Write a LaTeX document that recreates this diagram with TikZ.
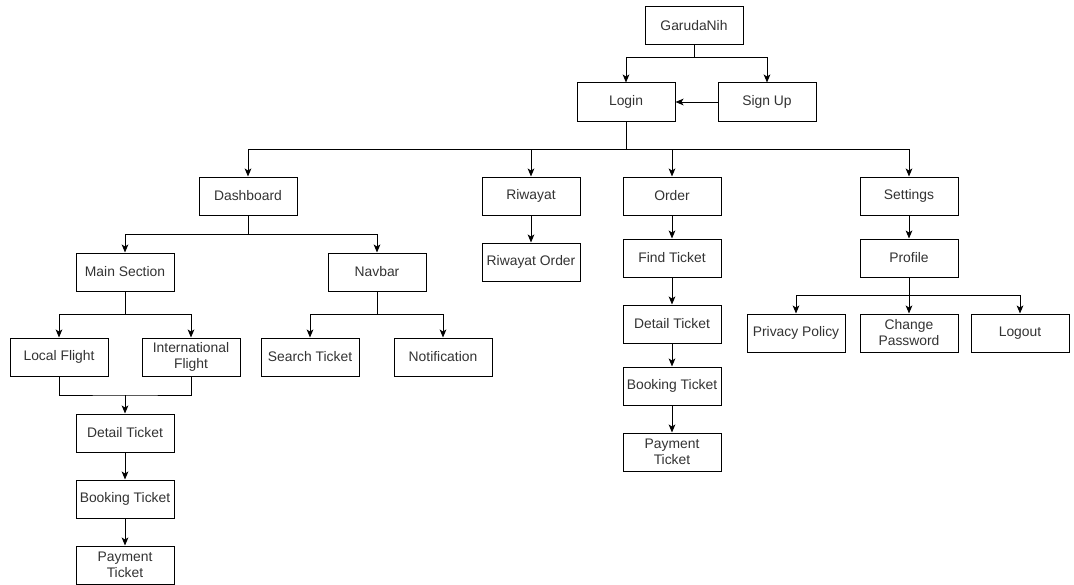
\documentclass[tikz,border=0pt]{standalone}
\usepackage{fontspec}
\setmainfont{Liberation Sans}
\usetikzlibrary{arrows.meta}
\definecolor{txt}{HTML}{333333}
\tikzset{
  box/.style={draw=black, line width=0.75pt, fill=white, minimum width=73.5pt,
    minimum height=28.5pt, inner sep=1pt, align=center, font=\fontsize{10.4}{12}\selectfont,
    text=txt},
  link/.style={draw=black, line width=0.75pt},
  arr/.style={link, -{Stealth[length=6pt, width=5pt, inset=1.5pt]}}
}
\begin{document}
\begin{tikzpicture}[x=0.75pt, y=-0.75pt]
\useasboundingbox (0,0) rectangle (1074,585);

% top level
\node[box] (garuda) at (694,26) {GarudaNih};
\node[box] (login) at (626,102) {Login};
\node[box] (signup) at (767,102) {Sign Up};

% main menus
\node[box] (dash) at (248,196) {Dashboard};
\node[box] (riwayat) at (531,196) {Riwayat};
\node[box] (order) at (672,196) {Order};
\node[box] (settings) at (909,196) {Settings};

% dashboard branch
\node[box] (main) at (125,272) {Main Section};
\node[box] (navbar) at (377,272) {Navbar};
\node[box] (local) at (59,357) {Local Flight};
\node[box] (intl) at (191,357) {International\\Flight};
\node[box] (search) at (310,357) {Search Ticket};
\node[box] (notif) at (443,357) {Notification};
\node[box] (detailA) at (125,433) {Detail Ticket};
\node[box] (bookA) at (125,499) {Booking Ticket};
\node[box] (payA) at (125,565) {Payment\\Ticket};

% riwayat branch
\node[box] (rorder) at (531,262) {Riwayat Order};

% order branch
\node[box] (find) at (672,258) {Find Ticket};
\node[box] (detailB) at (672,324) {Detail Ticket};
\node[box] (bookB) at (672,386) {Booking Ticket};
\node[box] (payB) at (672,452) {Payment\\Ticket};

% settings branch
\node[box] (profile) at (909,258) {Profile};
\node[box] (privacy) at (796,333) {Privacy Policy};
\node[box] (chpass) at (909,333) {Change\\Password};
\node[box] (logout) at (1020,333) {Logout};

% bus levels of the orthogonal connectors
\coordinate (busTop) at (694,58);
\coordinate (busLogin) at (626,149);
\coordinate (busDash) at (248,234);
\coordinate (busMain) at (125,314);
\coordinate (busNav) at (377,314);
\coordinate (merge) at (125,395);
\coordinate (busProf) at (909,295);

% GarudaNih to Login / Sign Up
\draw[arr] (garuda.south) -- (garuda.south |- busTop) -| (login.north);
\draw[arr] (garuda.south |- busTop) -| (signup.north);
\draw[arr] (signup.west) -- (login.east);

% Login to the main menus
\draw[link] (login.south) -- (login.south |- busLogin);
\draw[arr] (login.south |- busLogin) -| (dash.north);
\draw[arr] (login.south |- busLogin) -| (riwayat.north);
\draw[arr] (login.south |- busLogin) -| (order.north);
\draw[arr] (login.south |- busLogin) -| (settings.north);

% Dashboard
\draw[link] (dash.south) -- (dash.south |- busDash);
\draw[arr] (dash.south |- busDash) -| (main.north);
\draw[arr] (dash.south |- busDash) -| (navbar.north);

\draw[link] (main.south) -- (busMain);
\draw[arr] (busMain) -| (local.north);
\draw[arr] (busMain) -| (intl.north);

\draw[link] (navbar.south) -- (busNav);
\draw[arr] (busNav) -| (search.north);
\draw[arr] (busNav) -| (notif.north);

\draw[link] (local.south) |- (merge) -| (intl.south);
\draw[arr] (merge) -- (detailA.north);
\draw[arr] (detailA.south) -- (bookA.north);
\draw[arr] (bookA.south) -- (payA.north);

% Riwayat
\draw[arr] (riwayat.south) -- (rorder.north);

% Order
\draw[arr] (order.south) -- (find.north);
\draw[arr] (find.south) -- (detailB.north);
\draw[arr] (detailB.south) -- (bookB.north);
\draw[arr] (bookB.south) -- (payB.north);

% Settings
\draw[arr] (settings.south) -- (profile.north);
\draw[link] (profile.south) -- (busProf);
\draw[arr] (busProf) -| (privacy.north);
\draw[arr] (busProf) -- (chpass.north);
\draw[arr] (busProf) -| (logout.north);
\end{tikzpicture}
\end{document}
